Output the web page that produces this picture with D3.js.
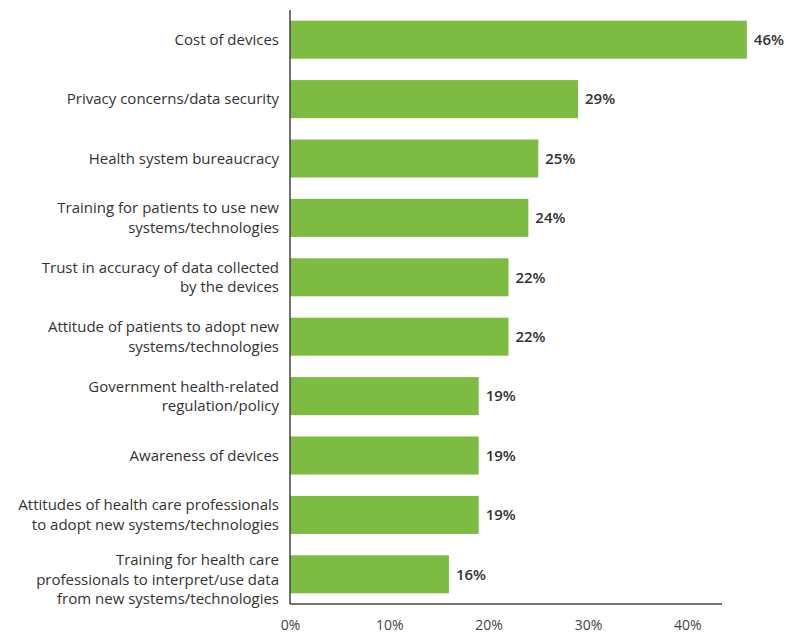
<!DOCTYPE html>
<html>
<head>
<meta charset="utf-8">
<script src="https://cdn.jsdelivr.net/npm/d3@7"></script>
<style>
  html, body { margin: 0; padding: 0; background: #fff; }
  svg { display: block; font-family: "Open Sans", "Noto Sans", sans-serif; }
</style>
</head>
<body>
<svg id="chart" width="786" height="636"></svg>
<script>
// Barriers to adoption, share of respondents (%)
const categories = [
  ["Cost of devices"],
  ["Privacy concerns/data security"],
  ["Health system bureaucracy"],
  ["Training for patients to use new", "systems/technologies"],
  ["Trust in accuracy of data collected", "by the devices"],
  ["Attitude of patients to adopt new", "systems/technologies"],
  ["Government health-related", "regulation/policy"],
  ["Awareness of devices"],
  ["Attitudes of health care professionals", "to adopt new systems/technologies"],
  ["Training for health care", "professionals to interpret/use data", "from new systems/technologies"]
];
const values = [46, 29, 25, 24, 22, 22, 19, 19, 19, 16];
const tickValues = [0, 10, 20, 30, 40];

const svg = d3.select("#chart");
const plotLeft = 290, plotTop = 10, plotBottom = 604, plotRight = 722;

const x = d3.scaleLinear().domain([0, 43.5]).range([plotLeft, plotRight]);
const y = d3.scaleBand()
  .domain(d3.range(values.length))
  .range([plotTop, plotBottom])
  .paddingInner(0.36)
  .paddingOuter(0.18);

// bars
svg.append("g").selectAll("rect")
  .data(values)
  .join("rect")
  .attr("x", x(0))
  .attr("y", (d, i) => y(i))
  .attr("width", d => x(d) - x(0))
  .attr("height", y.bandwidth())
  .attr("fill", "#7dbb42");

// value labels
svg.append("g").selectAll("text")
  .data(values)
  .join("text")
  .attr("x", d => x(d) + 7)
  .attr("y", (d, i) => y(i) + y.bandwidth() / 2)
  .attr("dy", "0.35em")
  .attr("font-size", 15)
  .attr("font-weight", 600)
  .attr("fill", "#333")
  .text(d => d + "%");

// category labels (multi-line, right aligned); three-line labels sit a little lower
const lineH = 19.5;
const labels = svg.append("g").selectAll("text")
  .data(categories)
  .join("text")
  .attr("text-anchor", "end")
  .attr("font-size", 15)
  .attr("fill", "#333")
  .attr("y", (d, i) => y(i) + y.bandwidth() / 2 - (d.length - 1) * lineH / 2 + (d.length > 2 ? 5 : 0));
labels.each(function(lines) {
  const t = d3.select(this);
  const y0 = +t.attr("y");
  lines.forEach((ln, k) => {
    t.append("tspan")
      .attr("x", 279)
      .attr("y", y0 + k * lineH)
      .attr("dy", "0.35em")
      .text(ln);
  });
});

// x axis (labels only) and frame lines
const xAxis = d3.axisBottom(x).tickValues(tickValues).tickSize(0).tickPadding(16)
  .tickFormat(d => d + "%");
const gx = svg.append("g").attr("transform", `translate(0,${plotBottom})`).call(xAxis);
gx.select(".domain").remove();
gx.selectAll("text").attr("font-size", 14).attr("fill", "#444")
  .attr("font-family", "'Open Sans', sans-serif");

svg.append("line")
  .attr("x1", x(0)).attr("x2", x(0))
  .attr("y1", plotTop).attr("y2", plotBottom)
  .attr("stroke", "#444").attr("stroke-width", 1.5);
svg.append("line")
  .attr("x1", x(0)).attr("x2", plotRight)
  .attr("y1", plotBottom).attr("y2", plotBottom)
  .attr("stroke", "#444").attr("stroke-width", 1.5);
</script>
</body>
</html>
